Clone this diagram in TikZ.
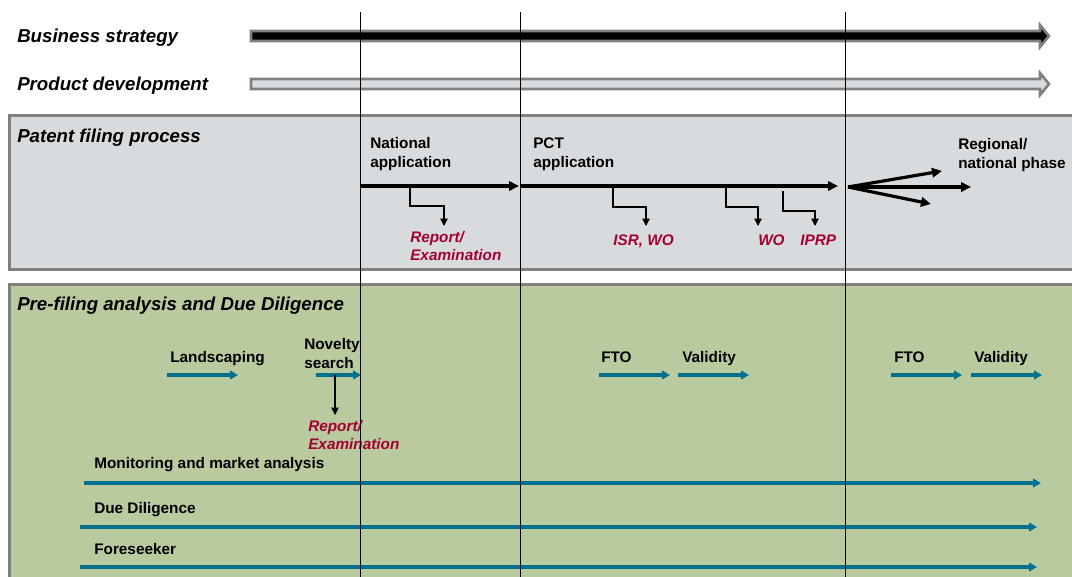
\documentclass[tikz,border=0pt]{standalone}
\usepackage{fontspec}
\setmainfont{Liberation Sans}
\usetikzlibrary{arrows.meta}
\definecolor{boxgray}{RGB}{216,219,222}
\definecolor{framegray}{RGB}{128,128,128}
\definecolor{diligreen}{RGB}{185,202,159}
\definecolor{resultred}{RGB}{165,0,52}
\definecolor{flowteal}{RGB}{0,112,145}
\begin{document}
\begin{tikzpicture}[x=0.75pt, y=-0.75pt,
    heading/.style={anchor=base west, inner sep=0pt, font=\fontsize{14}{16}\selectfont\bfseries\itshape},
    tasktext/.style={anchor=west, inner sep=0pt, align=left, font=\fontsize{11.5}{14.25}\selectfont\bfseries},
    taskline/.style={tasktext, anchor=base west},
    resulttext/.style={anchor=west, inner sep=0pt, align=left, text=resultred, font=\fontsize{11.5}{14}\selectfont\bfseries\itshape},
    resultline/.style={resulttext, anchor=base west},
    timebar/.style={draw=framegray, line width=2pt},
    panel/.style={draw=framegray, line width=2.25pt},
    mainflow/.style={line width=2.4pt, -{Triangle[length=7.5pt,width=7pt]}},
    elbow/.style={line width=0.8pt, -{Triangle[length=5.5pt,width=5.5pt]}},
    taskflow/.style={flowteal, line width=2.4pt, -{Triangle[length=6pt,width=6.5pt]}},
    phase/.style={line width=0.75pt}]
        \clip (0,0) rectangle (1072,577);

        % Timeline bars
        \path[timebar, fill=black] (251,31) -- (1040,31) -- (1040,25) -- (1049,36) -- (1040,47) -- (1040,41) -- (251,41) -- cycle;
        \path[timebar, fill=boxgray] (251,79) -- (1040,79) -- (1040,73) -- (1049,84) -- (1040,95) -- (1040,89) -- (251,89) -- cycle;

        % Panels
        \path[panel, fill=boxgray] (9,116) rectangle (1090,270);
        \path[panel, fill=diligreen] (9,285) rectangle (1090,600);

        % Headings
        \node at (17,43) (bs) [heading] {Business strategy};
        \node at (17,91) (pd) [heading] {Product development};
        \node at (17,143) (pfp) [heading] {Patent filing process};
        \node at (17,311) (pre) [heading] {Pre-filing analysis and Due Diligence};

        % Patent filing nodes
        \node at (370,154) (nat) [tasktext] {National\\application};
        \node at (533,154) (pct) [tasktext] {PCT\\application};
        \node at (958,155) (reg) [tasktext] {Regional/\\national phase};
        \node at (410,246) (natrep) [resulttext] {Report/\\Examination};
        \node at (613,246) (isr) [resultline] {ISR, WO};
        \node at (758,246) (wo) [resultline] {WO};
        \node at (800,246) (iprp) [resultline] {IPRP};

        \coordinate (nat0) at (360,186);
        \coordinate (nat1) at (519,186);
        \coordinate (pct0) at (520,186);
        \coordinate (pct1) at (838,186);
        \coordinate (fan) at (848,187);
        \coordinate (fan1) at (942,171);
        \coordinate (fan2) at (971,187);
        \coordinate (fan3) at (931,204);
        \coordinate (r1) at (410,186);
        \coordinate (r1end) at (444,226);
        \coordinate (r2) at (613,186);
        \coordinate (r2end) at (646,226);
        \coordinate (r3) at (726,186);
        \coordinate (r3end) at (758,226);
        \coordinate (r4) at (783,191);
        \coordinate (r4end) at (815,226);

        % Draw patent flow
        \draw[mainflow] (nat0) -- (nat1);
        \draw[mainflow] (pct0) -- (pct1);
        \draw[mainflow] (fan) -- (fan1);
        \draw[mainflow] (fan) -- (fan2);
        \draw[mainflow] (fan) -- (fan3);
        \draw[elbow] (r1) -- ++(0,20) -| (r1end);
        \draw[elbow] (r2) -- ++(0,21) -| (r2end);
        \draw[elbow] (r3) -- ++(0,21) -| (r3end);
        \draw[elbow] (r4) -- ++(0,20) -| (r4end);

        % Pre-filing nodes
        \node at (170,363) (land) [taskline] {Landscaping};
        \node at (304,354) (nov) [tasktext] {Novelty\\search};
        \node at (308,435) (novrep) [resulttext] {Report/\\Examination};
        \node at (601,363) (fto) [taskline] {FTO};
        \node at (682,363) (val) [taskline] {Validity};
        \node at (894,363) (ftob) [taskline] {FTO};
        \node at (974,363) (valb) [taskline] {Validity};
        \node at (94,469) (mon) [taskline] {Monitoring and market analysis};
        \node at (94,513) (dd) [taskline] {Due Diligence};
        \node at (94,554) (fs) [taskline] {Foreseeker};

        \coordinate (land0) at (167,375);
        \coordinate (land1) at (238,375);
        \coordinate (nov0) at (316,375);
        \coordinate (nov1) at (361,375);
        \coordinate (novdown) at (335,375);
        \coordinate (novdown1) at (335,415);
        \coordinate (fto0) at (599,375);
        \coordinate (fto1) at (670,375);
        \coordinate (val0) at (678,375);
        \coordinate (val1) at (749,375);
        \coordinate (ftob0) at (891,375);
        \coordinate (ftob1) at (962,375);
        \coordinate (valb0) at (971,375);
        \coordinate (valb1) at (1042,375);
        \coordinate (mon0) at (84,483);
        \coordinate (mon1) at (1041,483);
        \coordinate (dd0) at (80,527);
        \coordinate (dd1) at (1037,527);
        \coordinate (fs0) at (80,567);
        \coordinate (fs1) at (1037,567);

        % Draw pre-filing flow
        \draw[taskflow] (land0) -- (land1);
        \draw[taskflow] (nov0) -- (nov1);
        \draw[elbow] (novdown) -- (novdown1);
        \draw[taskflow] (fto0) -- (fto1);
        \draw[taskflow] (val0) -- (val1);
        \draw[taskflow] (ftob0) -- (ftob1);
        \draw[taskflow] (valb0) -- (valb1);
        \draw[taskflow] (mon0) -- (mon1);
        \draw[taskflow] (dd0) -- (dd1);
        \draw[taskflow] (fs0) -- (fs1);

        % Phase lines
        \draw[phase] (360,12) -- (360,580);
        \draw[phase] (520,12) -- (520,580);
        \draw[phase] (845,12) -- (845,580);
    \end{tikzpicture}
\end{document}
